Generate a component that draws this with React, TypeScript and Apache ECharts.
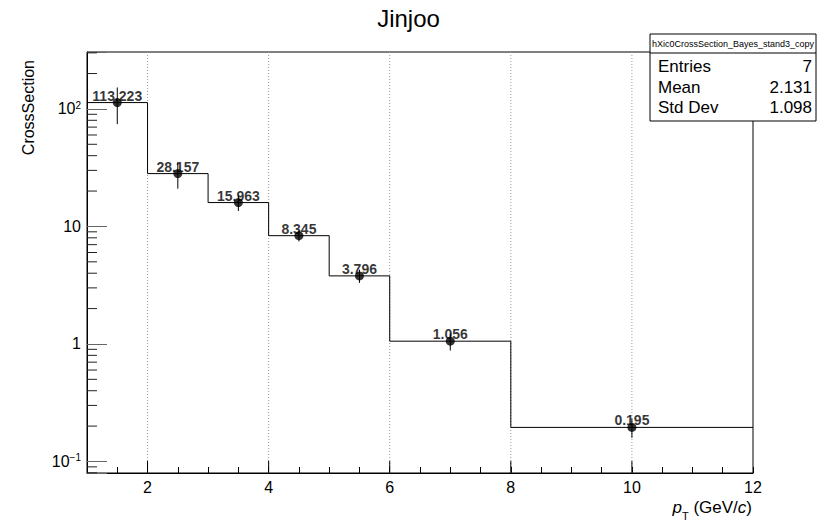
import React, { useEffect, useRef } from 'react';
import * as echarts from 'echarts';

const binEdges = [1, 2, 3, 4, 5, 6, 8, 12];
const binValues = [113.223, 28.157, 15.963, 8.345, 3.796, 1.056, 0.195];
const binErrors = [39, 7.2, 2.42, 0.88, 0.487, 0.176, 0.036];
const xRange = [1, 12];
const yRange = [0.0798, 305];
const xGridValues = [2, 4, 6, 8, 10];
const xMajorTickValues = [2, 4, 6, 8, 10];
const statsNames = ['Entries', 'Mean', 'Std Dev'];
const statsValues = ['7', '2.131', '1.098'];
const histName = 'hXic0CrossSection_Bayes_stand3_copy';
const chartTitle = 'Jinjoo';
const yTitle = 'CrossSection';

const FONT = "'Liberation Sans', Arial, Helvetica, sans-serif";

export default function App() {
  const ref = useRef<HTMLDivElement>(null);
  useEffect(() => {
    const chart = echarts.init(ref.current as HTMLDivElement, null, { renderer: 'svg' });
    const centers = binValues.map((_, i) => (binEdges[i] + binEdges[i + 1]) / 2);
    const stepData = binEdges.map((e, i) => [e, binValues[Math.min(i, binValues.length - 1)]]);
    const yMinor: number[][] = [];
    for (let k = -2; k <= 3; k++) {
      for (let m = 2; m <= 9; m++) {
        const v = m * Math.pow(10, k);
        if (v > yRange[0] && v < yRange[1]) yMinor.push([xRange[0], v]);
      }
    }
    const rowY = [66, 87, 107];

    const option: any = {
      animation: false,
      textStyle: { fontFamily: FONT },
      title: {
        text: chartTitle,
        left: 'center',
        top: 1,
        textStyle: { fontSize: 24, fontWeight: 'normal', color: '#000', fontFamily: FONT },
      },
      grid: {
        left: 87,
        right: 64,
        top: 52,
        bottom: 50,
        show: true,
        borderColor: '#000',
        borderWidth: 1,
      },
      xAxis: {
        type: 'value',
        min: xRange[0],
        max: xRange[1],
        interval: 0.5,
        axisLine: { show: true, lineStyle: { color: '#000', width: 1 } },
        axisTick: { show: true, inside: true, length: 6, lineStyle: { color: '#000' } },
        axisLabel: {
          formatter: (v: number) => (Math.abs(v / 2 - Math.round(v / 2)) < 1e-9 ? String(v) : ''),
          fontSize: 16,
          color: '#000',
          margin: 6,
          fontFamily: FONT,
        },
        splitLine: { show: false },
      },
      yAxis: {
        type: 'log',
        logBase: 10,
        min: yRange[0],
        max: yRange[1],
        axisLine: { show: true, lineStyle: { color: '#000', width: 1 } },
        axisTick: { show: true, inside: true, length: 20, lineStyle: { color: '#666' } },
        minorTick: { show: false },
        splitLine: { show: false },
        axisLabel: {
          margin: 6,
          color: '#000',
          fontFamily: FONT,
          formatter: (v: number) => {
            const lg = Math.log10(v);
            const r = Math.round(lg);
            if (Math.abs(lg - r) > 1e-6) return '';
            if (r === 0) return '{b|1}';
            if (r === 1) return '{b|10}';
            return `{b|10}{s|${r < 0 ? '\u2212' + -r : r}}`;
          },
          rich: {
            b: { fontSize: 16, lineHeight: 17, color: '#000', fontFamily: FONT },
            s: { fontSize: 10, lineHeight: 9, color: '#000', fontFamily: FONT, verticalAlign: 'top' },
          },
        },
      },
      graphic: [
        {
          type: 'text',
          x: 28,
          y: 60,
          rotation: Math.PI / 2,
          style: {
            text: yTitle,
            fontSize: 16,
            fontFamily: FONT,
            fill: '#000',
            align: 'right',
            verticalAlign: 'middle',
          },
        },
        {
          type: 'text',
          x: 752,
          y: 510,
          style: {
            text: '{i|p}{sub|T}{n| (GeV/}{i|c}{n|)}',
            align: 'right',
            verticalAlign: 'middle',
            rich: {
              i: { fontStyle: 'italic', fontSize: 17, lineHeight: 17, fontFamily: FONT, fill: '#000', verticalAlign: 'top' },
              n: { fontSize: 17, lineHeight: 17, fontFamily: FONT, fill: '#000', verticalAlign: 'top' },
              sub: { fontSize: 11, lineHeight: 22, fontFamily: FONT, fill: '#000', verticalAlign: 'bottom' },
            },
          },
        },
        {
          type: 'group',
          z: 100,
          children: [
            {
              type: 'rect',
              shape: { x: 650, y: 34, width: 166, height: 87 },
              style: { fill: '#fff', stroke: '#000', lineWidth: 1 },
            },
            {
              type: 'line',
              shape: { x1: 650, y1: 53, x2: 816, y2: 53 },
              style: { stroke: '#000', lineWidth: 1 },
            },
            {
              type: 'text',
              x: 733,
              y: 44,
              style: { text: histName, fontSize: 9, fontFamily: FONT, fill: '#000', align: 'center', verticalAlign: 'middle' },
            },
            ...statsNames.map((n, i) => ({
              type: 'text',
              x: 658,
              y: rowY[i],
              style: { text: n, fontSize: 17, fontFamily: FONT, fill: '#000', align: 'left', verticalAlign: 'middle' },
            })),
            ...statsValues.map((v, i) => ({
              type: 'text',
              x: 812,
              y: rowY[i],
              style: { text: v, fontSize: 17, fontFamily: FONT, fill: '#000', align: 'right', verticalAlign: 'middle' },
            })),
          ],
        },
      ],
      series: [
        {
          name: 'grid',
          type: 'custom',
          silent: true,
          z: 1,
          data: xGridValues.map((v) => [v, yRange[0]]),
          renderItem: (params: any, api: any) => {
            const p0 = api.coord([api.value(0), yRange[0]]);
            const p1 = api.coord([api.value(0), yRange[1]]);
            return {
              type: 'line',
              shape: { x1: p0[0], y1: p0[1], x2: p1[0], y2: p1[1] },
              style: { stroke: '#999', lineWidth: 1, lineDash: [1, 2] },
            };
          },
        },
        {
          name: 'hist',
          type: 'line',
          step: 'end',
          z: 2,
          symbol: 'none',
          data: stepData,
          lineStyle: { color: '#000', width: 1 },
        },
        {
          name: 'xMajorTicks',
          type: 'custom',
          silent: true,
          z: 3,
          data: xMajorTickValues.map((v) => [v, yRange[0]]),
          renderItem: (params: any, api: any) => {
            const p = api.coord([api.value(0), yRange[0]]);
            return {
              type: 'line',
              shape: { x1: p[0], y1: p[1], x2: p[0], y2: p[1] - 12 },
              style: { stroke: '#000', lineWidth: 1 },
            };
          },
        },
        {
          name: 'yMinorTicks',
          type: 'custom',
          silent: true,
          z: 3,
          data: yMinor,
          renderItem: (params: any, api: any) => {
            const p = api.coord([xRange[0], api.value(1)]);
            return {
              type: 'line',
              shape: { x1: p[0], y1: p[1], x2: p[0] + 10, y2: p[1] },
              style: { stroke: '#222', lineWidth: 1 },
            };
          },
        },
        {
          name: 'errors',
          type: 'custom',
          silent: true,
          z: 4,
          data: binValues.map((v, i) => [centers[i], v, binErrors[i]]),
          renderItem: (params: any, api: any) => {
            const x = api.value(0);
            const v = api.value(1);
            const e = api.value(2);
            const top = api.coord([x, v + e]);
            const bot = api.coord([x, v - e]);
            return {
              type: 'line',
              shape: { x1: top[0], y1: top[1], x2: bot[0], y2: bot[1] },
              style: { stroke: '#000', lineWidth: 1 },
            };
          },
        },
        {
          name: 'points',
          type: 'scatter',
          z: 5,
          symbol: 'circle',
          symbolSize: 9,
          itemStyle: { color: '#000' },
          data: binValues.map((v, i) => [centers[i], v]),
          label: {
            show: true,
            position: 'top',
            distance: -4.5,
            formatter: (p: any) => p.value[1].toFixed(3),
            fontSize: 14,
            fontWeight: 'bold',
            color: '#000',
            fontFamily: FONT,
          },
        },
      ],
    };
    chart.setOption(option);
    return () => chart.dispose();
  }, []);
  return <div ref={ref} style={{ position: 'absolute', left: 0, top: 0, width: 817, height: 523 }} />;
}
